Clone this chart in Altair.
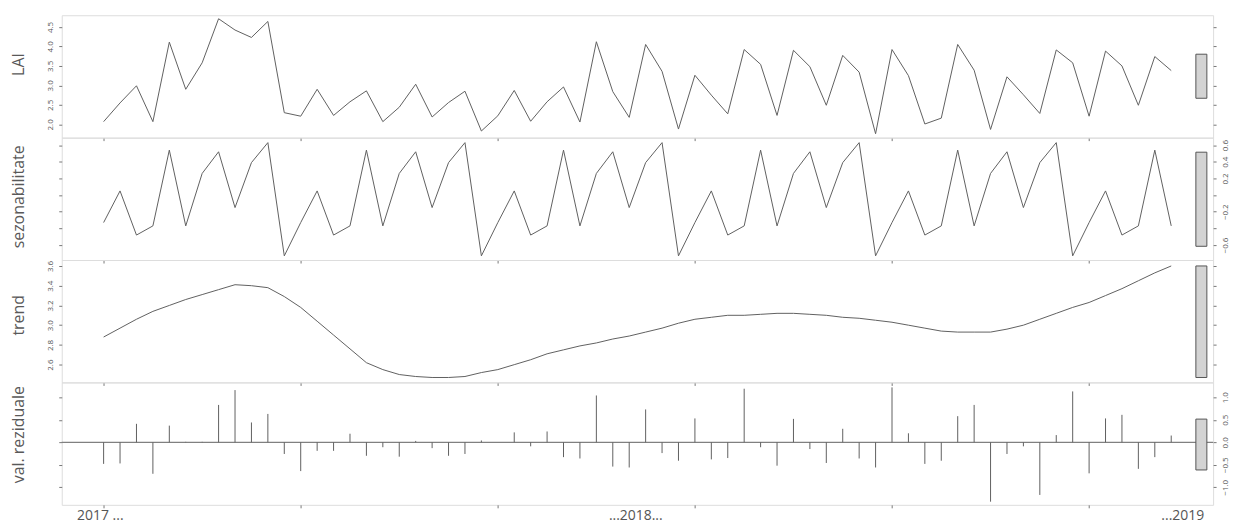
import altair as alt
import pandas as pd

# ---------------- data ----------------
t = list(range(66))

lai = [2.07, 2.55, 2.99, 2.07, 4.11, 2.90, 3.58, 4.71, 4.42, 4.23, 4.64, 2.30,
       2.21, 2.90, 2.23, 2.58, 2.86, 2.07, 2.44, 3.03, 2.19, 2.56, 2.85, 1.83,
       2.22, 2.87, 2.08, 2.58, 2.96, 2.06, 4.12, 2.84, 2.18, 4.05, 3.36, 1.88,
       3.26, 2.75, 2.27, 3.92, 3.54, 2.23, 3.90, 3.48, 2.49, 3.77, 3.34, 1.76,
       3.92, 3.25, 2.01, 2.16, 4.05, 3.39, 1.87, 3.22, 2.76, 2.28, 3.91, 3.58,
       2.21, 3.88, 3.50, 2.49, 3.74, 3.38]

seasonal = [-0.33, 0.05, -0.48, -0.37, 0.54, -0.37, 0.26, 0.52, -0.15, 0.39, 0.63, -0.73,
            -0.33, 0.05, -0.48, -0.37, 0.54, -0.37, 0.26, 0.52, -0.15, 0.39, 0.63, -0.73,
            -0.33, 0.05, -0.48, -0.37, 0.54, -0.37, 0.26, 0.52, -0.15, 0.39, 0.63, -0.73,
            -0.33, 0.05, -0.48, -0.37, 0.54, -0.37, 0.26, 0.52, -0.15, 0.39, 0.63, -0.73,
            -0.33, 0.05, -0.48, -0.37, 0.54, -0.37, 0.26, 0.52, -0.15, 0.39, 0.63, -0.73,
            -0.33, 0.05, -0.48, -0.37, 0.54, -0.37]

trend = [2.88, 2.97, 3.06, 3.14, 3.20, 3.26, 3.31, 3.36, 3.41, 3.40, 3.38, 3.29,
         3.18, 3.04, 2.90, 2.76, 2.62, 2.55, 2.50, 2.48, 2.47, 2.47, 2.48, 2.52,
         2.55, 2.60, 2.65, 2.71, 2.75, 2.79, 2.82, 2.86, 2.89, 2.93, 2.97, 3.02,
         3.06, 3.08, 3.10, 3.10, 3.11, 3.12, 3.12, 3.11, 3.10, 3.08, 3.07, 3.05,
         3.03, 3.00, 2.97, 2.94, 2.93, 2.93, 2.93, 2.96, 3.00, 3.06, 3.12, 3.18,
         3.23, 3.30, 3.37, 3.45, 3.53, 3.60]

resid = [-0.48, -0.47, 0.41, -0.70, 0.37, 0.01, 0.01, 0.83, 1.16, 0.44, 0.63, -0.26,
         -0.64, -0.19, -0.19, 0.19, -0.30, -0.11, -0.32, 0.03, -0.13, -0.30, -0.26, 0.04,
         0.00, 0.22, -0.09, 0.24, -0.33, -0.36, 1.04, -0.54, -0.56, 0.73, -0.24, -0.41,
         0.53, -0.38, -0.35, 1.19, -0.11, -0.52, 0.52, -0.15, -0.46, 0.30, -0.36, -0.56,
         1.22, 0.20, -0.48, -0.41, 0.58, 0.83, -1.32, -0.26, -0.09, -1.17, 0.16, 1.13,
         -0.69, 0.53, 0.61, -0.59, -0.33, 0.15]

x_text_labels = ["2017 ...", "...2018...", "...2019"]
x_text_pos = [-0.2, 32.4, 65.7]

panel_titles = ["LAI", "sezonabilitate", "trend", "val. reziduale"]

# ---------------- layout / style ----------------
W, H = 1157, 123
X_DOMAIN = [-2.55, 67.55]
X_TICKS = [0, 12, 24, 36, 48, 60]
BAR_X = [66.5, 67.17]
LINE_COL = "#606060"
TICK_COL = "#777777"
LABEL_COL = "#555555"
TITLE_COL = "#595959"
FONT = "Open Sans"

df = pd.DataFrame({"t": t, "lai": lai, "seasonal": seasonal, "trend": trend, "resid": resid})
series_all = [lai, seasonal, trend, resid]
rmin = min(max(s) - min(s) for s in series_all)

xscale = alt.Scale(domain=X_DOMAIN, nice=False, zero=False)
xaxis = alt.Axis(values=X_TICKS, labels=False, ticks=True, tickSize=3, tickColor=TICK_COL,
                 domain=False, grid=False, title=None)


def X(field):
    return alt.X(f"{field}:Q", scale=xscale, axis=xaxis)


def y_axes(side, ticks, title, title_y, label_expr=None):
    lab_kwargs = dict(orient=side, values=ticks, format=".1f", labelAngle=270, labelAlign="center",
                      labelBaseline="middle", labelFontSize=8, labelColor=LABEL_COL, labelFont=FONT,
                      labelPadding=8 if side == "left" else 9, tickSize=3, tickColor=TICK_COL,
                      domain=False, grid=False, labelOverlap=False)
    if label_expr:
        lab_kwargs["labelExpr"] = label_expr
    other = "right" if side == "left" else "left"
    oth_kwargs = dict(orient=other, values=ticks, labels=False, tickSize=3, tickColor=TICK_COL,
                      domain=False, grid=False)
    title_kwargs = dict(title=title, titleX=-43, titleY=title_y, titleAngle=270, titleAlign="center",
                        titleBaseline="middle", titleFont=FONT, titleFontSize=16,
                        titleFontWeight="normal", titleColor=TITLE_COL)
    if side == "left":
        lab_kwargs.update(title_kwargs)
        oth_kwargs["title"] = None
    else:
        oth_kwargs.update(title_kwargs)
        lab_kwargs["title"] = None
    return alt.Axis(**lab_kwargs), alt.Axis(**oth_kwargs)


def range_bar(values, yscale, axis):
    c = (max(values) + min(values)) / 2
    bdf = pd.DataFrame({"bx0": [BAR_X[0]], "bx1": [BAR_X[1]],
                        "lo": [c - rmin / 2], "hi": [c + rmin / 2]})
    return alt.Chart(bdf).mark_rect(fill="#d3d3d3", stroke="#555555", strokeWidth=1).encode(
        x=alt.X("bx0:Q", scale=xscale, axis=xaxis), x2="bx1:Q",
        y=alt.Y("lo:Q", scale=yscale, axis=axis), y2="hi:Q")


def line_panel(field, values, title, domain, ticks, side, title_y, label_expr=None):
    ys = alt.Scale(domain=domain, nice=False, zero=False)
    ax_main, ax_other = y_axes(side, ticks, title, title_y, label_expr)
    line = alt.Chart(df).mark_line(color=LINE_COL, strokeWidth=1).encode(
        x=X("t"), y=alt.Y(f"{field}:Q", scale=ys, axis=ax_main))
    bar = range_bar(values, ys, ax_other)
    return alt.layer(line, bar).resolve_scale(y="independent").properties(width=W, height=H)


p1 = line_panel("lai", lai, panel_titles[0], [1.66, 4.80], [2.0, 2.5, 3.0, 3.5, 4.0, 4.5], "left", 49)
p2 = line_panel("seasonal", seasonal, panel_titles[1], [-0.78, 0.69],
                [-0.6, -0.4, -0.2, 0.0, 0.2, 0.4, 0.6], "right", 59,
                label_expr="(abs(datum.value) < 0.01 || abs(datum.value + 0.4) < 0.01) ? '' : datum.label")
p3 = line_panel("trend", trend, panel_titles[2], [2.42, 3.66], [2.6, 2.8, 3.0, 3.2, 3.4, 3.6], "left", 55)

# residual panel
ys4 = alt.Scale(domain=[-1.39, 1.33], nice=False, zero=False)
ax4_main, ax4_other = y_axes("right", [-1.0, -0.5, 0.0, 0.5, 1.0], panel_titles[3], 52)
df4 = df.assign(zero=0.0)
stems = alt.Chart(df4).mark_rule(color=LINE_COL, strokeWidth=1).encode(
    x=X("t"), y=alt.Y("resid:Q", scale=ys4, axis=ax4_main), y2="zero:Q")
zero_line = alt.Chart(pd.DataFrame({"z": [0.0]})).mark_rule(color="#808080", strokeWidth=1.3).encode(
    y=alt.Y("z:Q", scale=ys4, axis=ax4_main))
xlab = alt.Chart(pd.DataFrame({"lx": x_text_pos, "txt": x_text_labels})).mark_text(
    font=FONT, fontSize=14, color=LABEL_COL, baseline="middle", align="center").encode(
    x=X("lx"), y=alt.value(H + 11), text="txt:N")
inner = alt.layer(zero_line, stems, xlab)
bar4 = range_bar(resid, ys4, ax4_other)
p4 = alt.layer(inner, bar4).resolve_scale(y="independent").properties(width=W, height=H)

chart = alt.vconcat(p1, p2, p3, p4, spacing=0, bounds="flush").properties(
    padding={"left": 2, "top": 5, "right": 5, "bottom": 0}
).configure_view(stroke="#8c8c8c", strokeWidth=1.5).configure(background="white")

chart.save("out.html", embed_options={"renderer": "svg", "actions": False})
